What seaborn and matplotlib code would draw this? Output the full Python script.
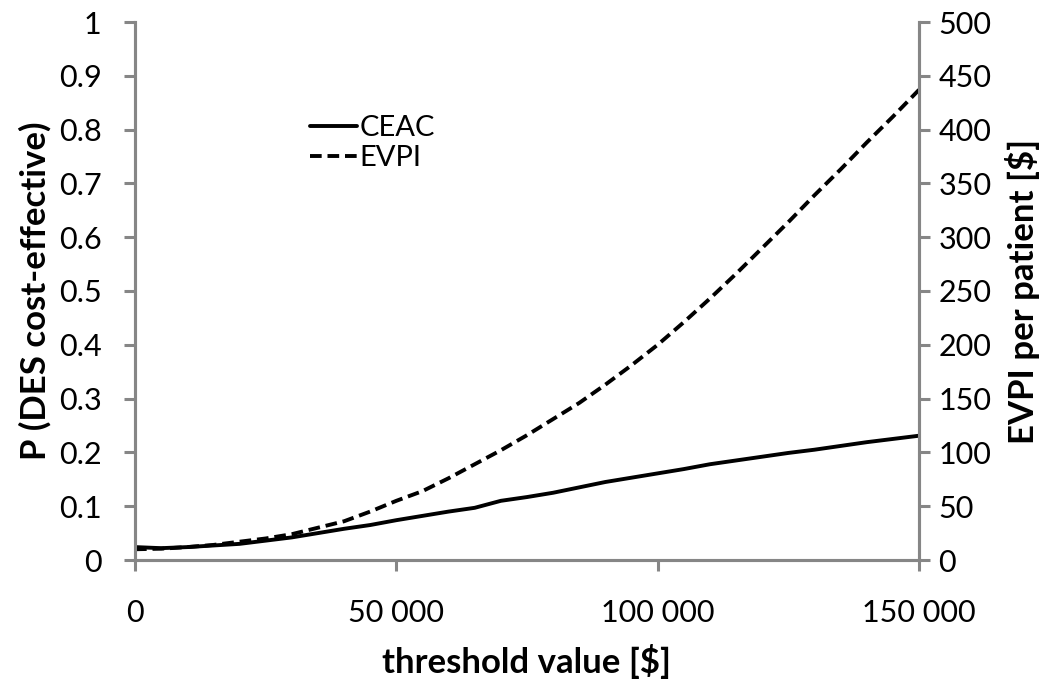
import matplotlib
matplotlib.use("Agg")
import matplotlib.pyplot as plt
import seaborn as sns
import pandas as pd
from matplotlib.ticker import FuncFormatter, MultipleLocator

threshold = [0, 5000, 10000, 15000, 20000, 25000, 30000, 35000, 40000, 45000,
             50000, 55000, 60000, 65000, 70000, 75000, 80000, 85000, 90000, 95000,
             100000, 105000, 110000, 115000, 120000, 125000, 130000, 135000, 140000,
             145000, 150000]
ceac = [0.024, 0.022, 0.024, 0.027, 0.030, 0.036, 0.042, 0.050, 0.058, 0.065,
        0.074, 0.082, 0.090, 0.097, 0.110, 0.117, 0.125, 0.135, 0.145, 0.153,
        0.161, 0.169, 0.178, 0.185, 0.192, 0.199, 0.205, 0.212, 0.219, 0.225, 0.231]
evpi = [10, 10.5, 12, 14, 17, 20, 24, 30, 36, 45,
        55, 64, 76, 89, 102, 116, 131, 146, 163, 181,
        200, 221, 243, 266, 290, 314, 339, 363, 388, 412, 437]

x_label = "threshold value [$]"
y_label_left = "P (DES cost-effective)"
y_label_right = "EVPI per patient [$]"
series_names = ["CEAC", "EVPI"]

df = pd.DataFrame({"threshold": threshold, "ceac": ceac, "evpi": evpi})

sns.set_theme(style="white")
plt.rcParams['font.family'] = ['Lato', 'DejaVu Sans']
plt.rcParams['text.color'] = 'black'
plt.rcParams['axes.labelcolor'] = 'black'

grey = "#868686"
fs_tick = 22
fs_label = 25
fs_leg = 21

fig = plt.figure(figsize=(10.64, 6.85), dpi=100)
ax = fig.add_axes([135/1064, 1-560/685, (919-135)/1064, (560-22)/685])
ax2 = ax.twinx()

sns.lineplot(data=df, x="threshold", y="ceac", ax=ax, color="black",
             linewidth=2.8, label=series_names[0], legend=False)
sns.lineplot(data=df, x="threshold", y="evpi", ax=ax2, color="black",
             linewidth=2.8, linestyle=(0, (3.0, 1.5)), label=series_names[1], legend=False)

ax.set_xlim(0, 150000)
ax.set_ylim(0, 1)
ax2.set_ylim(0, 500)
ax.xaxis.set_major_locator(MultipleLocator(50000))
ax.yaxis.set_major_locator(MultipleLocator(0.1))
ax2.yaxis.set_major_locator(MultipleLocator(50))

ax.xaxis.set_major_formatter(FuncFormatter(lambda v, p: f"{int(round(v)):,}".replace(",", " ")))
ax.yaxis.set_major_formatter(FuncFormatter(lambda v, p: f"{v:.1f}".rstrip("0").rstrip(".") if v not in (0, 1) else str(int(round(v)))))

for a in (ax, ax2):
    for s in a.spines.values():
        s.set_color(grey)
        s.set_linewidth(2.2)
    a.spines["top"].set_visible(False)

ax.tick_params(axis="x", direction="out", length=8, width=2.2, color=grey,
               labelsize=fs_tick, pad=20, labelcolor="black", bottom=True)
ax.tick_params(axis="y", direction="out", length=8, width=2.2, color=grey,
               labelsize=fs_tick, pad=16, labelcolor="black", left=True)
ax2.tick_params(axis="y", direction="out", length=8, width=2.2, color=grey,
                labelsize=fs_tick, pad=6, labelcolor="black", right=True)

ax.set_xlabel(x_label, fontsize=fs_label, fontweight="bold", labelpad=12, color="black")
ax.set_ylabel(y_label_left, fontsize=fs_label, fontweight="bold", labelpad=5, color="black")
ax2.set_ylabel(y_label_right, fontsize=fs_label, fontweight="bold", labelpad=10, color="black")
ax.grid(False)
ax2.grid(False)

h1, l1 = ax.get_legend_handles_labels()
h2, l2 = ax2.get_legend_handles_labels()
leg = ax2.legend(h1 + h2, l1 + l2, loc="upper left", bbox_to_anchor=(0.19, 0.875),
                 frameon=False, fontsize=fs_leg, handlelength=1.6, handletextpad=0.1,
                 labelspacing=0.12)
for t in leg.get_texts():
    t.set_color("black")

fig.savefig("out.png", dpi=100)
